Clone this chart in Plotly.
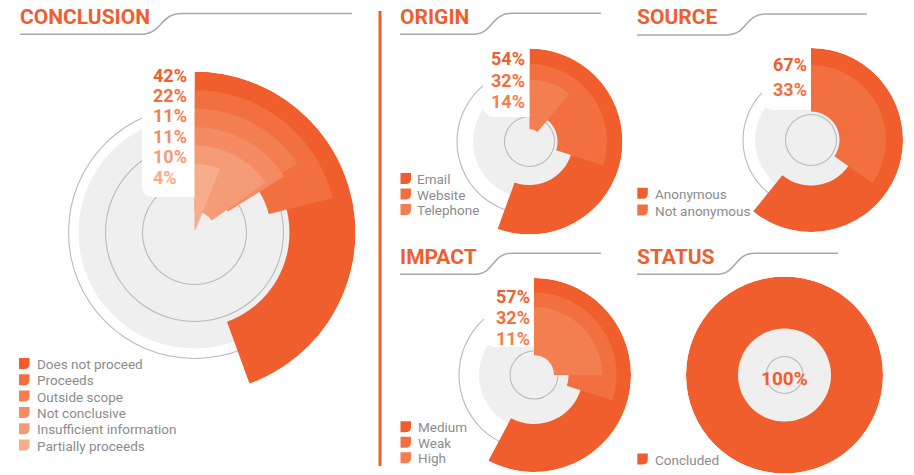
import plotly.graph_objects as go

W, H = 914, 475

# data
conclusion_labels = ["Does not proceed", "Proceeds", "Outside scope", "Not conclusive",
                     "Insufficient information", "Partially proceeds"]
conclusion_pct = [42, 22, 11, 11, 10, 4]
conclusion_arc = [160, 76, 56, 58, 55, 22]   # sweep of each bar as drawn (degrees)

origin_labels = ["Email", "Website", "Telephone"]
origin_pct = [54, 32, 14]
origin_arc = [200, 108, 40]

source_labels = ["Anonymous", "Not anonymous"]
source_pct = [67, 33]
source_arc = [219, 125]

impact_labels = ["Medium", "Weak", "High"]
impact_pct = [57, 32, 11]
impact_arc = [208, 108, 90]

status_labels = ["Concluded"]
status_pct = [100]
status_arc = [360]

colors = ["#F05E2E", "#F2703F", "#F37F51", "#F48B62", "#F59B75", "#F7AC8B"]
GREY_DISC = "#EFEFEF"
GREY_LINE = "#B9B9B9"
TEXT_GREY = "#8C8C8C"

# layout of each panel (pixels)
panels = [
    dict(title="CONCLUSION", labels=conclusion_labels, pct=conclusion_pct, arc=conclusion_arc,
         cx=194.5, cy=232.5, R=161, step=18.5, thick=66, disc=116, circles=[52, 89, 126],
         box=(142, 58, 197), lab=(150.5, 75, 20.4), leg=(19, 34.5, 363.5, 16.3),
         head=(20, 17), line=(20, 140, 182, 352, 34.3, 13.5)),
    dict(title="ORIGIN", labels=origin_labels, pct=origin_pct, arc=origin_arc,
         cx=529.5, cy=141.5, R=93, step=15.5, thick=49.5, disc=56.5, circles=[25, 72.5],
         box=(483, 38, 117), lab=(489, 58.5, 21.7), leg=(400.5, 415.3, 178.5, 15.5),
         head=(400.5, 17), line=(400, 472, 512, 601, 34.3, 13.3)),
    dict(title="SOURCE", labels=source_labels, pct=source_pct, arc=source_arc,
         cx=811, cy=140, R=92, step=17, thick=46.5, disc=56, circles=[25.5, 68],
         box=(762, 38, 110), lab=(770.5, 64, 25.3), leg=(637.3, 653, 193.3, 16.7),
         head=(637, 17), line=(637, 726, 766, 867, 35, 14)),
    dict(title="IMPACT", labels=impact_labels, pct=impact_pct, arc=impact_arc,
         cx=534, cy=375, R=97, step=14.5, thick=48, disc=55, circles=[24, 75],
         box=(484, 268, 347), lab=(494, 296, 21), leg=(400.5, 415.7, 426.7, 15.5),
         head=(400.5, 257), line=(400, 474, 512, 601, 274.3, 253.3)),
    dict(title="STATUS", labels=status_labels, pct=status_pct, arc=status_arc,
         cx=784.5, cy=375, R=98.5, step=0, thick=52, disc=46.5, circles=[18.5],
         box=None, lab=None, leg=(637.3, 653, 459, 16),
         head=(637, 257), line=(637, 716, 755, 838, 274.3, 253.3)),
]


def px(x):
    return x / W


def py(y):
    return 1 - y / H


def pt(x, y):
    return f"{px(x):.5f},{py(y):.5f}"


fig = go.Figure()
shapes = []
annotations = []
layout_polars = {}

for k, p in enumerate(panels):
    sub = "polar" if k == 0 else f"polar{k + 1}"
    ring = dict(theta=[180], width=[360], subplot=sub, hoverinfo="skip", showlegend=False)

    # grey background disc and thin guide circles
    fig.add_trace(go.Barpolar(r=[p["disc"]], base=[0], marker=dict(color=GREY_DISC, line=dict(width=0)), **ring))
    for rc in p["circles"]:
        fig.add_trace(go.Barpolar(r=[1.1], base=[rc - 0.55],
                                  marker=dict(color=GREY_LINE, line=dict(width=0)), **ring))

    n = len(p["pct"])
    outer = [p["R"] - p["step"] * i for i in range(n)]
    inner = [max(o - p["thick"], 0) for o in outer]
    fig.add_trace(go.Barpolar(
        r=[o - b for o, b in zip(outer, inner)],
        base=inner,
        theta=[a / 2 for a in p["arc"]],
        width=p["arc"],
        marker=dict(color=colors[:n], line=dict(width=0)),
        customdata=list(zip(p["labels"], p["pct"])),
        hovertemplate="%{customdata[0]}: %{customdata[1]}%<extra></extra>",
        subplot=sub, showlegend=False,
    ))

    R = p["R"]
    layout_polars[sub] = dict(
        domain=dict(x=[px(p["cx"] - R), px(p["cx"] + R)], y=[py(p["cy"] + R), py(p["cy"] - R)]),
        bgcolor="rgba(0,0,0,0)", hole=0, barmode="overlay",
        radialaxis=dict(range=[0, R], visible=False),
        angularaxis=dict(rotation=90, direction="clockwise", visible=False),
    )

    # white box behind the percentage labels
    if p["box"]:
        left, top, bottom = p["box"]
        right = p["cx"]
        rad = 12
        shapes.append(dict(
            type="path", xref="paper", yref="paper", layer="above",
            path=f"M{pt(left, top)} L{pt(right, top)} L{pt(right, bottom)} L{pt(left + rad, bottom)} "
                 f"Q{pt(left, bottom)} {pt(left, bottom - rad)} Z",
            fillcolor="white", line=dict(width=0)))
        lx, ly, dy = p["lab"]
        for i, v in enumerate(p["pct"]):
            annotations.append(dict(
                x=px(lx), y=py(ly + dy * i), xref="paper", yref="paper", xanchor="left", yanchor="middle",
                text=f"{v}%", showarrow=False,
                font=dict(family="Roboto", size=18, weight=700, color=colors[i])))
    else:
        annotations.append(dict(
            x=px(p["cx"]), y=py(p["cy"] + 3), xref="paper", yref="paper", xanchor="center", yanchor="middle",
            text=f"{p['pct'][0]}%", showarrow=False,
            font=dict(family="Roboto", size=19, weight=700, color=colors[0])))

    # heading and its curved rule
    hx, hy = p["head"]
    annotations.append(dict(
        x=px(hx - 2.5), y=py(hy), xref="paper", yref="paper", xanchor="left", yanchor="middle",
        text=p["title"], showarrow=False,
        font=dict(family="Roboto", size=21, weight=700, color=colors[0])))
    x0, xa, xb, x1, ylo, yhi = p["line"]
    w = xb - xa
    shapes.append(dict(
        type="path", xref="paper", yref="paper",
        path=f"M{pt(x0, ylo)} L{pt(xa, ylo)} C{pt(xa + 0.55 * w, ylo)} {pt(xb - 0.55 * w, yhi)} {pt(xb, yhi)} "
             f"L{pt(x1, yhi)}",
        line=dict(color="#A9A9A9", width=1.5)))

    # legend
    ix, tx, ly0, ldy = p["leg"]
    for i, name in enumerate(p["labels"]):
        yc = ly0 + ldy * i
        t, b = yc - 5.5, yc + 5.5
        shapes.append(dict(
            type="path", xref="paper", yref="paper",
            path=f"M{pt(ix, t)} L{pt(ix + 10.5, t)} L{pt(ix + 10.5, b - 5)} Q{pt(ix + 10.5, b)} {pt(ix + 5, b)} "
                 f"L{pt(ix, b)} Z",
            fillcolor=colors[i], line=dict(width=0)))
        annotations.append(dict(
            x=px(tx), y=py(yc + 0.5), xref="paper", yref="paper", xanchor="left", yanchor="middle",
            text=name, showarrow=False,
            font=dict(family="Roboto", size=13.5, color=TEXT_GREY)))

# vertical divider
shapes.append(dict(type="line", xref="paper", yref="paper",
                   x0=px(380), x1=px(380), y0=py(11), y1=py(466),
                   line=dict(color=colors[0], width=3)))

fig.update_layout(
    width=W, height=H, autosize=False,
    margin=dict(l=0, r=0, t=0, b=0),
    paper_bgcolor="white", plot_bgcolor="white",
    showlegend=False,
    shapes=shapes, annotations=annotations,
    **layout_polars,
)

# the page's default body margin would push the figure 8px down and right
fig.write_html("out.html", config={"displayModeBar": False},
               post_script="document.body.style.margin = '0';")
